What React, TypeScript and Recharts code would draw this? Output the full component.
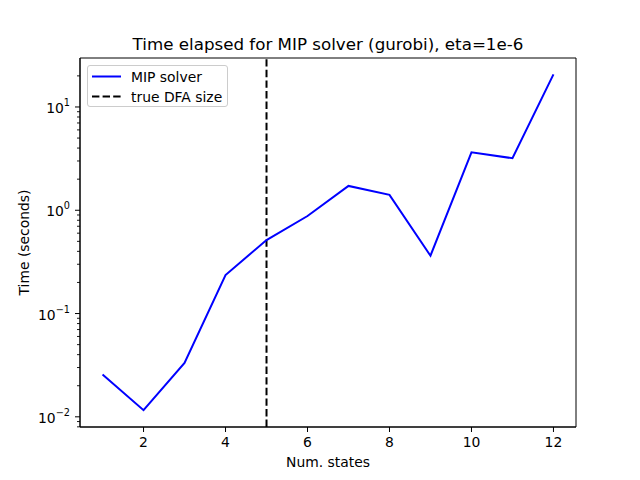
import { LineChart, Line, XAxis, YAxis, ReferenceLine, ReferenceArea, Label } from 'recharts'

const states = [1, 2, 3, 4, 5, 6, 7, 8, 9, 10, 11, 12]
const mipSeconds = [0.0257, 0.0116, 0.0333, 0.236, 0.515, 0.88, 1.72, 1.41, 0.363, 3.64, 3.19, 20.7]
const trueDfaSize = 5
const xTicks = [2, 4, 6, 8, 10, 12]
const majorY = [0.01, 0.1, 1, 10]
const minorY = [0.008, 0.009, 0.02, 0.03, 0.04, 0.05, 0.06, 0.07, 0.08, 0.09, 0.2, 0.3, 0.4, 0.5, 0.6, 0.7, 0.8, 0.9, 2, 3, 4, 5, 6, 7, 8, 9, 20]

const data = states.map((s, i) => ({ states: s, time: mipSeconds[i] }))

const X_DOMAIN = [0.45, 12.55]
const Y_DOMAIN = [0.00797, 29.8]
const FONT = '"DejaVu Sans", sans-serif'

const XTick = (props: any) => {
  const { x, y, payload } = props
  return (
    <g>
      <line x1={x} x2={x} y1={y} y2={y + 5} stroke="#000" strokeWidth={1} />
      <text x={x} y={y + 20} textAnchor="middle" fontSize={13.9} fontFamily={FONT} fill="#000">
        {payload.value}
      </text>
    </g>
  )
}

const YTick = (props: any) => {
  const { x, y, payload } = props
  const exp = Math.round(Math.log10(payload.value))
  const expText = exp < 0 ? `\u2212${-exp}` : `${exp}`
  return (
    <g>
      <line x1={x} x2={x - 5} y1={y} y2={y} stroke="#000" strokeWidth={1} />
      <text x={x - 10} y={y + 6} textAnchor="end" fontSize={13.9} fontFamily={FONT} fill="#000">
        <tspan>10</tspan>
        <tspan dy={-7} fontSize={9.7}>{expText}</tspan>
      </text>
    </g>
  )
}

// minor log ticks, drawn just outside the left spine
const MinorTick = (p: any) => (
  <line x1={p.x1} x2={p.x1 - 3} y1={p.y1} y2={p.y1} stroke="#000" strokeWidth={0.9} />
)

const LegendBox = () => (
  <div
    style={{
      position: 'absolute',
      left: 87,
      top: 65,
      width: 141,
      height: 42,
      border: '1px solid #cccccc',
      borderRadius: 3,
      background: 'rgba(255,255,255,0.8)',
      boxSizing: 'border-box',
    }}
  >
    <svg width={141} height={42} style={{ position: 'absolute', left: -1, top: -1 }}>
      <line x1={5} x2={34} y1={11.5} y2={11.5} stroke="#0000ff" strokeWidth={2} />
      <line x1={5} x2={34} y1={31.5} y2={31.5} stroke="#000" strokeWidth={2} strokeDasharray="7.4 3.2" />
      <text x={44} y={16.5} fontSize={13.9} fontFamily={FONT} fill="#000">MIP solver</text>
      <text x={44} y={36.5} fontSize={13.9} fontFamily={FONT} fill="#000">true DFA size</text>
    </svg>
  </div>
)

export default function App() {
  return (
    <div style={{ position: 'absolute', left: 0, top: 0, width: 640, height: 480, background: '#fff' }}>
      <LineChart width={640} height={480} data={data} margin={{ top: 58, right: 64, left: 0, bottom: 0 }}>
        <XAxis
          dataKey="states"
          type="number"
          domain={X_DOMAIN}
          ticks={xTicks}
          allowDataOverflow
          height={53}
          stroke="#000"
          tickSize={0}
          tickMargin={0}
          tickLine={false}
          tick={<XTick />}
        >
          <Label
            content={() => (
              <g>
                <text x={328} y={467} textAnchor="middle" fontSize={13.9} fontFamily={FONT} fill="#000">
                  Num. states
                </text>
                <text x={328} y={50} textAnchor="middle" fontSize={16.7} fontFamily={FONT} fill="#000">
                  Time elapsed for MIP solver (gurobi), eta=1e-6
                </text>
              </g>
            )}
          />
        </XAxis>
        <YAxis
          dataKey="time"
          type="number"
          scale="log"
          domain={Y_DOMAIN}
          allowDataOverflow
          ticks={majorY}
          interval={0}
          width={80}
          stroke="#000"
          tickSize={0}
          tickMargin={0}
          tickLine={false}
          tick={<YTick />}
        >
          <Label
            content={() => (
              <text
                x={24}
                y={242.5}
                transform="rotate(-90 24 242.5)"
                textAnchor="middle"
                dominantBaseline="central"
                fontSize={13.9}
                fontFamily={FONT}
                fill="#000"
              >
                Time (seconds)
              </text>
            )}
          />
        </YAxis>
        {minorY.map((v) => (
          <ReferenceLine key={v} y={v} ifOverflow="visible" shape={<MinorTick />} />
        ))}
        <ReferenceArea
          x1={X_DOMAIN[0]}
          x2={X_DOMAIN[1]}
          y1={Y_DOMAIN[0]}
          y2={Y_DOMAIN[1]}
          fill="none"
          fillOpacity={0}
          stroke="#000"
          strokeWidth={1}
          ifOverflow="extendDomain"
        />
        <ReferenceLine x={trueDfaSize} stroke="#000" strokeWidth={2} strokeDasharray="7.4 3.2" />
        <Line
          type="linear"
          dataKey="time"
          name="MIP solver"
          stroke="#0000ff"
          strokeWidth={2}
          dot={false}
          activeDot={false}
          isAnimationActive={false}
        />
      </LineChart>
      <LegendBox />
    </div>
  )
}
